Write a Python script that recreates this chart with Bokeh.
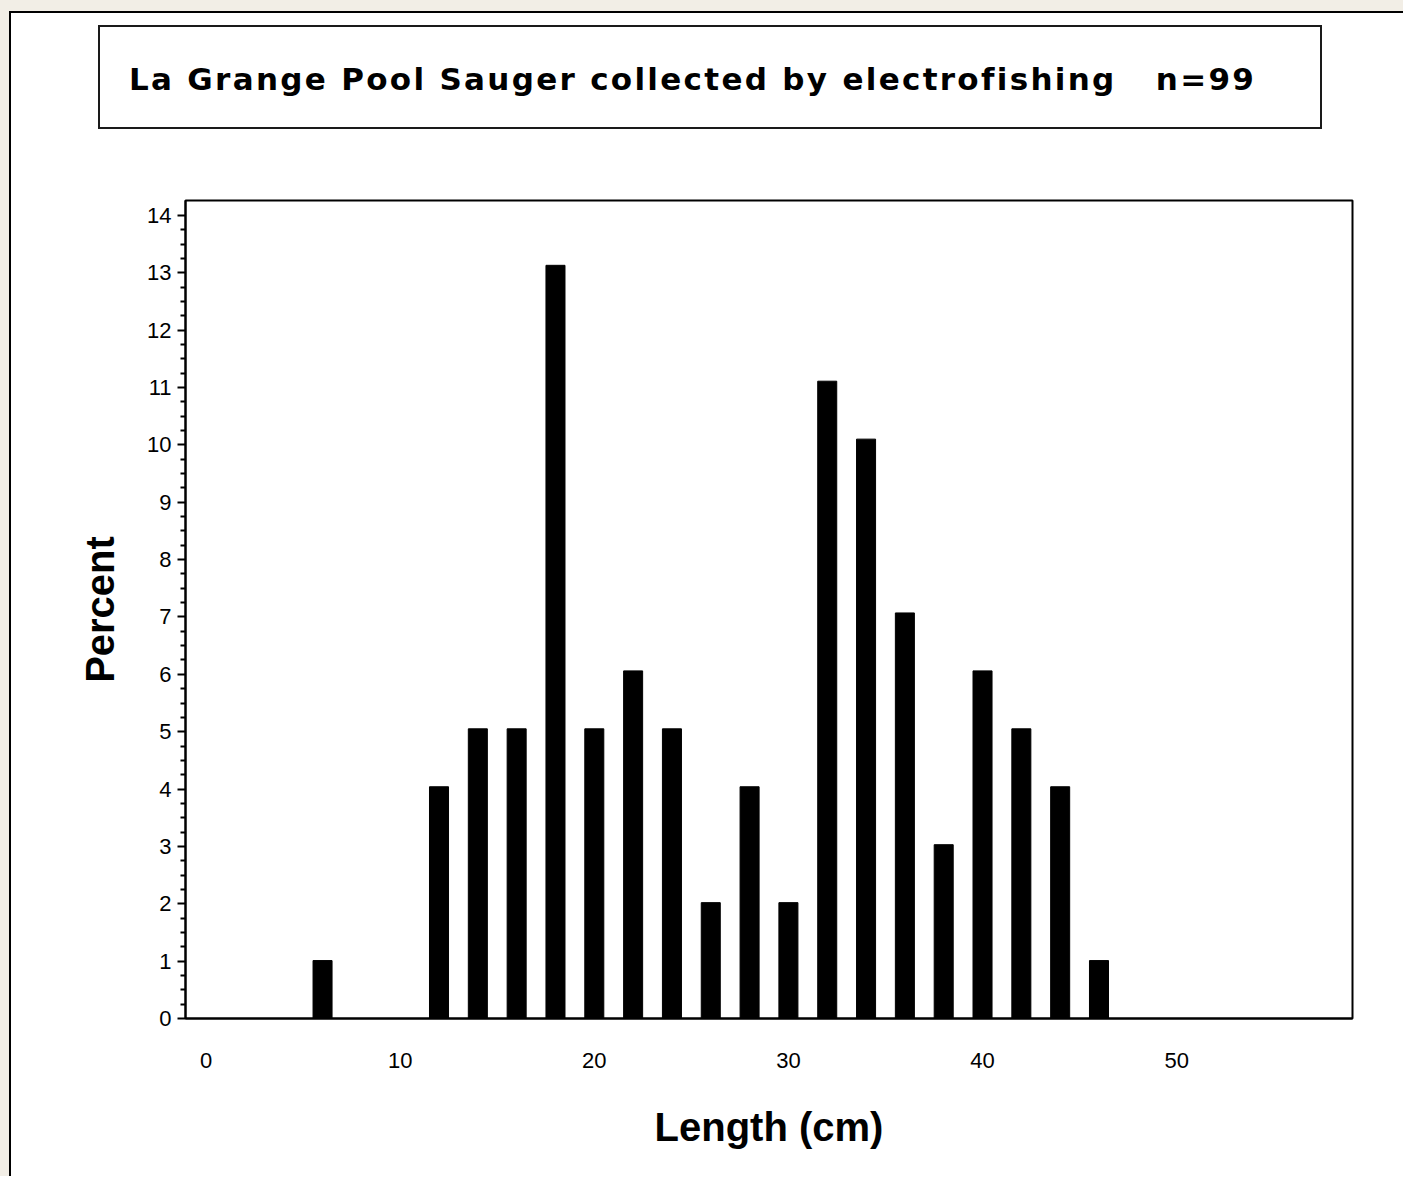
from bokeh.plotting import figure
from bokeh.layouts import column
from bokeh.models import Range1d, FixedTicker, Div
from bokeh.embed import file_html
from bokeh.resources import INLINE

# ---- data ----
lengths = [6, 12, 14, 16, 18, 20, 22, 24, 26, 28, 30, 32, 34, 36, 38, 40, 42, 44, 46]
percent = [1.01, 4.04, 5.05, 5.05, 13.13, 5.05, 6.06, 5.05, 2.02, 4.04, 2.02,
           11.11, 10.10, 7.07, 3.03, 6.06, 5.05, 4.04, 1.01]
x_ticks = [0, 10, 20, 30, 40, 50]
y_ticks = list(range(0, 15))
title_text = "La Grange Pool Sauger collected by electrofishing   n=99"
x_label = "Length (cm)"
y_label = "Percent"

W = 1392

# ---- title box (HTML, keeps the spacing of the original) ----
title_html = (
    '<div style="position:relative; left:87px; top:12px; width:1224px; height:104px; '
    'box-sizing:border-box; border:2px solid #1a1a1a; background:white; '
    'display:flex; align-items:center; padding-left:29px; padding-top:4px; white-space:pre; '
    "font-family:'DejaVu Sans'; font-weight:bold; font-size:31px; letter-spacing:2.3px; "
    'color:black;">' + title_text + '</div>'
)
title_div = Div(text=title_html, width=W, height=177,
                styles={"background-color": "white", "margin": "0", "padding": "0"})

# ---- main histogram ----
p = figure(width=W, height=986, x_range=Range1d(-1.06, 59.06), y_range=Range1d(0, 14.26),
           output_backend="svg", toolbar_location=None,
           min_border_left=174, min_border_right=51, min_border_top=10, min_border_bottom=158)
p.grid.visible = False
p.background_fill_color = "white"
p.border_fill_color = "white"
p.outline_line_color = "black"
p.outline_line_width = 2

p.vbar(x=lengths, top=percent, width=0.98, fill_color="black", line_color="black")

p.xaxis.ticker = FixedTicker(ticks=x_ticks)
p.xaxis.major_tick_out = 0
p.xaxis.major_tick_in = 0
p.xaxis.minor_tick_out = 0
p.xaxis.minor_tick_in = 0
p.xaxis.major_label_standoff = 34
p.xaxis.axis_label = x_label
p.xaxis.axis_label_standoff = 34

minor = [t + k * 0.25 for t in y_ticks[:-1] for k in (1, 2, 3)]
p.yaxis.ticker = FixedTicker(ticks=y_ticks, minor_ticks=minor)
p.yaxis.major_tick_out = 8
p.yaxis.major_tick_in = 0
p.yaxis.minor_tick_out = 5
p.yaxis.minor_tick_in = 0
p.yaxis.major_tick_line_width = 2
p.yaxis.minor_tick_line_width = 2
p.yaxis.major_label_standoff = 6
p.yaxis.axis_label = y_label
p.yaxis.axis_label_standoff = 22

for ax in (p.xaxis, p.yaxis):
    ax.axis_line_width = 2
    ax.axis_line_color = "black"
    ax.major_tick_line_color = "black"
    ax.minor_tick_line_color = "black"
    ax.major_label_text_font = "Liberation Sans"
    ax.major_label_text_font_size = "22px"
    ax.major_label_text_color = "black"
    ax.axis_label_text_font = "Liberation Sans"
    ax.axis_label_text_font_style = "bold"
    ax.axis_label_text_font_size = "40px"
    ax.axis_label_text_color = "black"

inner = column(title_div, p, styles={"border-left": "2px solid black", "border-top": "2px solid black",
                                     "background-color": "white"})
outer = column(inner, styles={"background-color": "#f2eee6", "padding": "11px 0 0 9px"})

open("out.html", "w").write(file_html(outer, INLINE))
